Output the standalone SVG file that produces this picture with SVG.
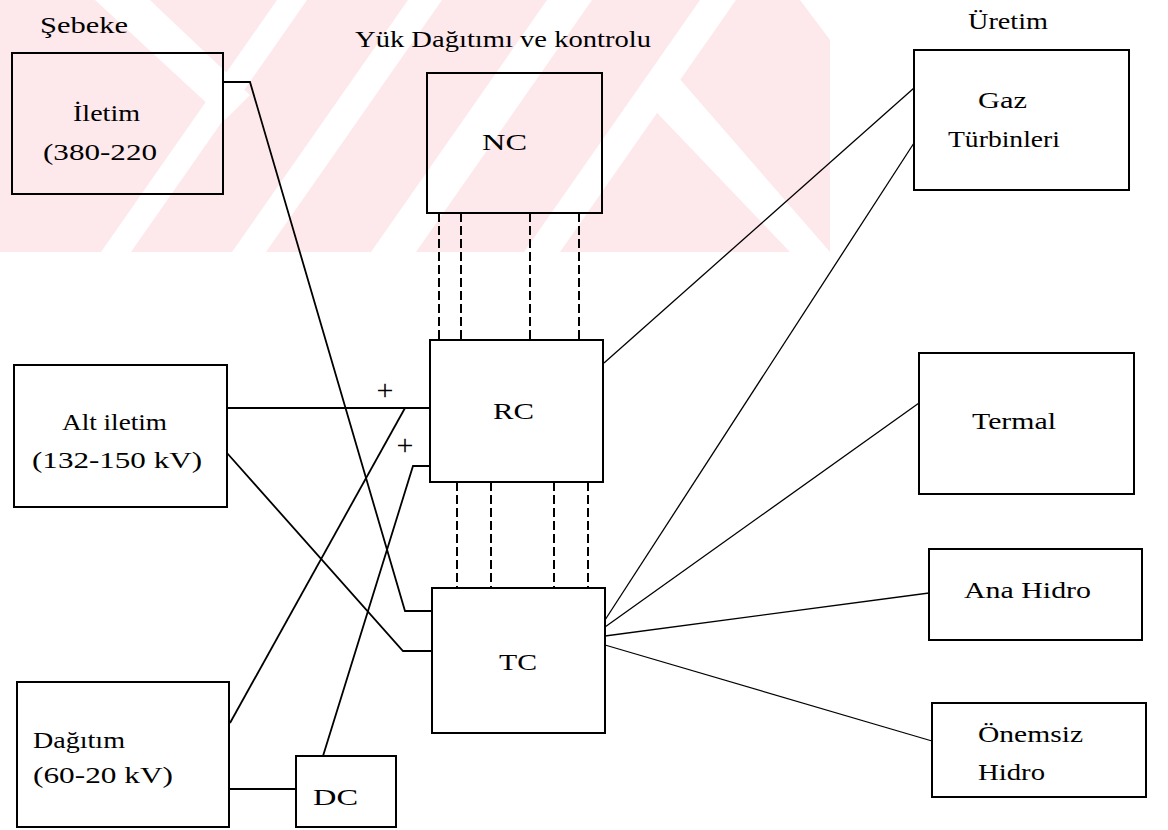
<svg xmlns="http://www.w3.org/2000/svg" width="1168" height="830" viewBox="0 0 1168 830">
  <style>
    .box { fill: none; stroke: #000; stroke-width: 2; }
    .wire { fill: none; stroke: #000; stroke-width: 1.8; }
    .thin { fill: none; stroke: #000; stroke-width: 1.3; }
    .dash { fill: none; stroke: #000; stroke-width: 2; stroke-dasharray: 9 4; }
    .lbl { font-family: "Liberation Serif", "DejaVu Serif", serif; font-size: 23px; fill: #000; }
    .plus { font-family: "Liberation Serif", "DejaVu Serif", serif; font-size: 30px; fill: #000; text-anchor: middle; }
    .wm { fill: #fde8ec; }
    .gap { fill: #ffffff; }
  </style>
  <defs>
    <clipPath id="wmclip">
      <rect x="0" y="0" width="830" height="252"/>
    </clipPath>
  </defs>

  <rect x="0" y="0" width="1168" height="830" fill="#ffffff"/>

  <!-- faint background band with diagonal stripes -->
  <g id="background-band" clip-path="url(#wmclip)">
    <polygon class="wm" points="0,0 800,0 830,40 830,252 0,252"/>
    <polygon class="gap" points="101,252 131,252 307,0 277,0"/>
    <polygon class="gap" points="232,252 266,252 442,0 408,0"/>
    <polygon class="gap" points="371,252 416,252 592,0 547,0"/>
    <polygon class="gap" points="524,252 560,252 736,0 700,0"/>
    <polygon class="gap" points="95,0 150,0 250,95 225,120"/>
    <polygon class="gap" points="640,95 672,70 830,252 790,252"/>
  </g>

  <!-- connectors -->
  <g id="connectors">
    <polyline class="wire" points="223,82 250,82 405,611 432,611"/>
    <line class="wire" x1="227" y1="408" x2="430" y2="408"/>
    <polyline class="wire" points="227,453 403,651 432,651"/>
    <line class="wire" x1="230" y1="723" x2="405" y2="408"/>
    <polyline class="wire" points="323,756 413,466 430,466"/>
    <line class="wire" x1="229" y1="789" x2="296" y2="789"/>
    <line class="thin" x1="604" y1="363" x2="914" y2="88"/>
    <line class="thin" x1="605" y1="620" x2="914" y2="143"/>
    <line class="thin" x1="605" y1="627" x2="919" y2="403"/>
    <line class="thin" x1="605" y1="636" x2="929" y2="593"/>
    <line class="thin" x1="605" y1="645" x2="932" y2="741"/>
    <line class="dash" x1="439" y1="213" x2="439" y2="340"/>
    <line class="dash" x1="461" y1="213" x2="461" y2="340"/>
    <line class="dash" x1="530" y1="213" x2="530" y2="340"/>
    <line class="dash" x1="579" y1="213" x2="579" y2="340"/>
    <line class="dash" x1="457" y1="482" x2="457" y2="588"/>
    <line class="dash" x1="491" y1="482" x2="491" y2="588"/>
    <line class="dash" x1="554" y1="482" x2="554" y2="588"/>
    <line class="dash" x1="588" y1="482" x2="588" y2="588"/>
    <!-- polarity marks on the RC feeds -->
    <text class="plus" x="385" y="400">+</text>
    <text class="plus" x="405" y="455">+</text>
  </g>

  <!-- group headings -->
  <g id="headings">
    <text class="lbl" x="40" y="33" textLength="88" lengthAdjust="spacingAndGlyphs">Şebeke</text>
    <text class="lbl" x="355" y="47" textLength="296" lengthAdjust="spacingAndGlyphs">Yük Dağıtımı ve kontrolu</text>
    <text class="lbl" x="968" y="29" textLength="80" lengthAdjust="spacingAndGlyphs">Üretim</text>
  </g>

  <g id="iletim">
    <rect class="box" x="12" y="53" width="211" height="141"/>
    <text class="lbl" x="73" y="121" textLength="67" lengthAdjust="spacingAndGlyphs">İletim</text>
    <text class="lbl" x="43" y="160" textLength="114" lengthAdjust="spacingAndGlyphs">(380-220</text>
  </g>

  <g id="alt-iletim">
    <rect class="box" x="14" y="365" width="213" height="142"/>
    <text class="lbl" x="62" y="430" textLength="105" lengthAdjust="spacingAndGlyphs">Alt iletim</text>
    <text class="lbl" x="32" y="468" textLength="170" lengthAdjust="spacingAndGlyphs">(132-150 kV)</text>
  </g>

  <g id="dagitim">
    <rect class="box" x="17" y="682" width="212" height="145"/>
    <text class="lbl" x="33" y="748" textLength="92" lengthAdjust="spacingAndGlyphs">Dağıtım</text>
    <text class="lbl" x="33" y="783" textLength="140" lengthAdjust="spacingAndGlyphs">(60-20 kV)</text>
  </g>

  <g id="dc">
    <rect class="box" x="296" y="756" width="100" height="71"/>
    <text class="lbl" x="313" y="805" textLength="45" lengthAdjust="spacingAndGlyphs">DC</text>
  </g>

  <g id="nc">
    <rect class="box" x="427" y="73" width="175" height="140"/>
    <text class="lbl" x="482" y="150" textLength="45" lengthAdjust="spacingAndGlyphs">NC</text>
  </g>

  <g id="rc">
    <rect class="box" x="430" y="340" width="173" height="142"/>
    <text class="lbl" x="493" y="419" textLength="41" lengthAdjust="spacingAndGlyphs">RC</text>
  </g>

  <g id="tc">
    <rect class="box" x="432" y="588" width="173" height="145"/>
    <text class="lbl" x="499" y="670" textLength="38" lengthAdjust="spacingAndGlyphs">TC</text>
  </g>

  <g id="gaz-turbinleri">
    <rect class="box" x="914" y="50" width="215" height="140"/>
    <text class="lbl" x="978" y="108" textLength="49" lengthAdjust="spacingAndGlyphs">Gaz</text>
    <text class="lbl" x="948" y="147" textLength="112" lengthAdjust="spacingAndGlyphs">Türbinleri</text>
  </g>

  <g id="termal">
    <rect class="box" x="919" y="353" width="215" height="141"/>
    <text class="lbl" x="972" y="429" textLength="84" lengthAdjust="spacingAndGlyphs">Termal</text>
  </g>

  <g id="ana-hidro">
    <rect class="box" x="929" y="549" width="213" height="91"/>
    <text class="lbl" x="964" y="598" textLength="127" lengthAdjust="spacingAndGlyphs">Ana Hidro</text>
  </g>

  <g id="onemsiz-hidro">
    <rect class="box" x="932" y="703" width="214" height="94"/>
    <text class="lbl" x="978" y="742" textLength="105" lengthAdjust="spacingAndGlyphs">Önemsiz</text>
    <text class="lbl" x="978" y="780" textLength="67" lengthAdjust="spacingAndGlyphs">Hidro</text>
  </g>
</svg>
